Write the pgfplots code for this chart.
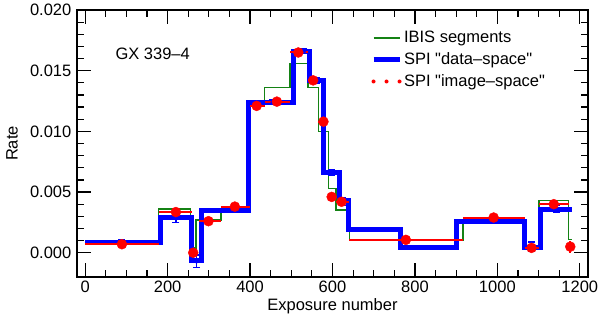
\documentclass[border=0pt]{standalone}
\usepackage{fontspec}
\setmainfont{Liberation Sans}
\usepackage{pgfplots}
\usepackage{pgfplotstable}
\pgfplotsset{compat=1.18}
\definecolor{ibis}{RGB}{20,130,20}

\pgfplotstableread{
x y
0 0.0007
178 0.0036
256 0.0004
269 0.0027
329 0.0034
400 0.0123
435 0.0136
497 0.0156
541 0.0136
566 0.0100
590 0.0053
608 0.0035
641 0.00106
917 0.0025
1067 0.0005
1101 0.0043
1173 0.0011
1180 0.0011
}\ibistab

\pgfplotstableread{
x y
0 0.00086
183 0.0029
259 -0.0006
283 0.0035
395 0.0124
505 0.0166
545 0.0142
578 0.0066
617 0.0043
638 0.0019
766 0.00045
901 0.0026
1067 0.00045
1105 0.0036
1180 0.0036
}\spidatastep

\pgfplotstableread{
x y ye
89 0.00086 0.0002
220 0.0029 0.0004
270 -0.0007 0.0005
345 0.0035 0.0001
455 0.0124 0.0002
530 0.0166 0.0002
560 0.0142 0.0002
598 0.0066 0.0002
625 0.0042 0.0003
703 0.0019 0.0001
832 0.00045 0.0001
984 0.0026 0.0001
1083 0.0005 0.0004
1143 0.0036 0.0003
}\spidatapts

\pgfplotstableread{
x y xm xp ye
89 0.0007 89 91 0.0002
220 0.00335 40 38 0.0002
262 0.0000 4 6 0.0003
299 0.0026 24 31 0.0002
363 0.0038 33 37 0.0002
416 0.0121 16 20 0.0002
465 0.01245 29 32 0.0002
517 0.0165 20 24 0.0002
553 0.0142 12 13 0.0002
578 0.0108 12 12 0.0003
598 0.0046 8 10 0.0003
622 0.0042 14 19 0.0002
778 0.00106 137 139 0.0001
991 0.0029 74 76 0.0001
1083 0.0004 16 17 0.0002
1137 0.0040 37 36 0.0002
1177 0.0005 4 3 0.0005
}\spiimage

\begin{document}
\fontsize{16.5bp}{20bp}\selectfont
\begin{tikzpicture}
\begin{axis}[
  scale only axis,
  width=511bp, height=267bp,
  xmin=-20, xmax=1220,
  ymin=-0.002, ymax=0.020,
  xtick={0,200,...,1200},
  ytick={0,0.005,0.010,0.015,0.020},
  minor x tick num=3,
  minor y tick num=4,
  tick align=inside,
  xtick pos=both, ytick pos=both,
  xticklabel pos=lower, yticklabel pos=left,
  major tick length=14bp,
  minor tick length=7bp,
  every tick/.style={black, line width=1.2bp},
  axis line style={line width=1.5bp},
  scaled y ticks=false,
  /pgf/number format/assume math mode=true,
  yticklabel style={/pgf/number format/.cd, fixed, fixed zerofill, precision=3},
  xticklabel style={yshift=2bp, /pgf/number format/.cd, fixed, precision=0, 1000 sep={}},
  xlabel={Exposure number},
  ylabel={Rate},
  every axis x label/.style={at={(axis description cs:0.5,-0.124)}, anchor=base},
  every axis y label/.style={at={(axis description cs:-0.127,0.5)}, rotate=90, anchor=center},
  legend cell align=left,
  legend style={draw=none, fill=none, at={(rel axis cs:0.575,0.93)}, anchor=north west, row sep=3.5bp, inner sep=0pt, font=\fontsize{16.5bp}{20bp}\selectfont},
  legend image code/.code={\draw[#1] (0bp,0bp) -- (26bp,0bp);},
]
\addlegendimage{ibis, line width=1.5bp}
\addlegendentry{IBIS segments}
\addlegendimage{blue, line width=5bp}
\addlegendentry{SPI \textquotedbl data--space\textquotedbl}
\addlegendimage{red, line width=4bp, dash pattern=on 0bp off 13bp, line cap=round}
\addlegendentry{SPI \textquotedbl image--space\textquotedbl}

\addplot[forget plot, ibis, line width=1.5bp, const plot mark left] table[x=x,y=y] {\ibistab};
\addplot[forget plot, blue, line width=5bp, line join=miter, const plot mark left] table[x=x,y=y] {\spidatastep};
\addplot[forget plot, only marks, blue, mark=*, mark size=2bp,
  error bars/.cd, y dir=both, y explicit,
  error bar style={blue, line width=1.5bp},
  error mark options={rotate=90, mark size=3.5bp, line width=1.5bp, blue}]
  table[x=x,y=y,y error=ye] {\spidatapts};
\addplot[forget plot, only marks, red, mark=*, mark size=5bp,
  error bars/.cd, x dir=both, x explicit, y dir=both, y explicit,
  error bar style={red, line width=2bp}, error mark=none]
  table[x=x,y=y,x error minus=xm,x error plus=xp,y error=ye] {\spiimage};

\node[anchor=west, inner sep=0pt] at (axis cs:73,0.0164) {GX 339--4};
\coordinate (sw) at (rel axis cs:0,0);
\end{axis}
\pgfresetboundingbox
\path (sw) ++(-77bp,-40bp) rectangle ++(600bp,317bp);
\end{tikzpicture}
\end{document}
